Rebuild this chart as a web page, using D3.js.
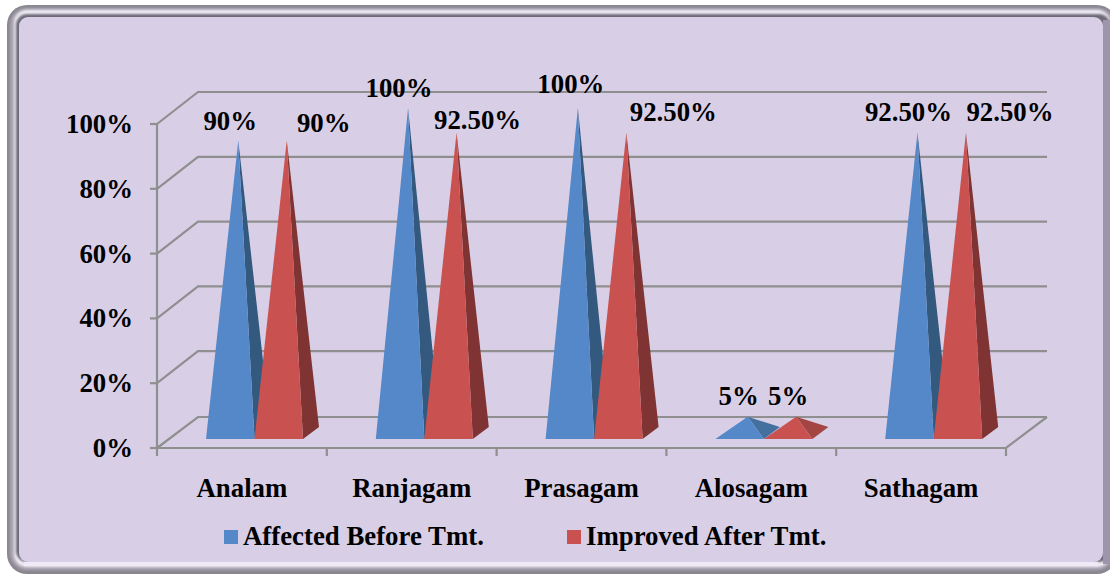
<!DOCTYPE html>
<html><head><meta charset="utf-8">
<script src="https://cdnjs.cloudflare.com/ajax/libs/d3/7.8.5/d3.min.js"></script>
<style>html,body{margin:0;padding:0;background:#fff}svg{display:block}text{font-family:"Liberation Serif",serif;font-weight:bold;fill:#000}</style>
</head><body><svg id="c" width="1110" height="576"></svg>
<script>
const categories = ["Analam","Ranjagam","Prasagam","Alosagam","Sathagam"];
const seriesNames = ["Affected Before Tmt.","Improved After Tmt."];
const affected = [90,100,100,5,92.5];
const improved = [90,92.5,92.5,5,92.5];
const affectedLabels = ["90%","100%","100%","5%","92.50%"];
const improvedLabels = ["90%","92.50%","92.50%","5%","92.50%"];
const yTicks = [0,20,40,60,80,100];
// label nudges away from the apex (layout only)
const affectedNudge = [[-8,-11],[-9,-11],[-7,-15],[-9,-12],[-9,-11]];
const improvedNudge = [[37,-9],[21,-3],[47,-11],[-8,-12],[44,-11]];

const svg = d3.select("#c");
const defs = svg.append("defs");
defs.append("filter").attr("id","b").append("feGaussianBlur").attr("stdDeviation",1.1);

// frame
svg.append("rect").attr("x",7).attr("y",5).attr("width",1110).attr("height",569).attr("rx",20).attr("fill","#8b8790");
svg.append("rect").attr("x",10).attr("y",8).attr("width",1104).attr("height",562).attr("rx",17).attr("fill","#aaa5b3").attr("filter","url(#b)");
svg.append("rect").attr("x",14).attr("y",10).attr("width",1096).attr("height",557).attr("rx",13).attr("fill","#f1edf6").attr("filter","url(#b)");
svg.append("rect").attr("x",16).attr("y",14).attr("width",1094).attr("height",548).attr("rx",11).attr("fill","#6e6a78").attr("filter","url(#b)");
svg.append("rect").attr("x",1103).attr("y",20).attr("width",7).attr("height",544).attr("fill","#9d96ab");
svg.append("rect").attr("x",19).attr("y",17).attr("width",1084).attr("height",545).attr("rx",9).attr("fill","#d8cfe7");
svg.append("rect").attr("x",24).attr("y",562).attr("width",1074).attr("height",4).attr("fill","#efeaf6");

// scales
const frontLeft = 157, frontRight = 1006, frontBottom = 448, frontTop = 124;
const depthX = 41, depthY = 31;
const xScale = d3.scaleBand().domain(categories).range([frontLeft,frontRight]).padding(0);
const gridY = d3.scaleLinear().domain([0,100]).range([frontBottom,frontTop]);
const barH = d3.scaleLinear().domain([0,100]).range([0,325]);
const gray = "#8f8f8f";

// gridlines
const grid = svg.append("g").attr("stroke",gray).attr("stroke-width",2.2).attr("fill","none");
yTicks.forEach(t=>{
  const y = gridY(t);
  grid.append("path").attr("d",`M${frontLeft},${y}L${frontLeft+depthX},${y-depthY-(t===0?0:1)}H${frontRight+depthX}`);
  grid.append("line").attr("x1",frontLeft-7).attr("x2",frontLeft).attr("y1",y).attr("y2",y);
  svg.append("text").attr("x",133).attr("y",y+9).attr("text-anchor","end").attr("font-size",26.8).text(t+"%");
});
grid.append("line").attr("x1",frontLeft).attr("x2",frontLeft).attr("y1",frontTop).attr("y2",frontBottom+8);
grid.append("path").attr("d",`M${frontLeft},${frontBottom}H${frontRight}L${frontRight+depthX},${frontBottom-depthY}`);
categories.forEach((c,i)=>{
  const x = xScale(c)+xScale.bandwidth();
  grid.append("line").attr("x1",x).attr("x2",x).attr("y1",frontBottom).attr("y2",frontBottom+8);
});

// pyramids
const barW = 48.5, inset = 49, baseY = 439, sideX = 16, sideY = 12;
const colors = [["#5588c8","#34597f","#44709f"],["#c95250","#7f3433","#a44543"]];
function pyramid(vals,k,labels,nudge){
  const g = svg.append("g");
  vals.forEach((v,i)=>{
    const x0 = xScale(categories[i])+inset+k*barW, x1 = x0+barW;
    const ax = (x0+x1)/2+sideX/2, ay = baseY-sideY/2-barH(v);
    g.append("path").attr("d",`M${x1},${baseY}L${x1+sideX},${baseY-sideY}L${ax},${ay}Z`).attr("fill",v<20?colors[k][2]:colors[k][1]);
    g.append("path").attr("d",`M${x0},${baseY}L${x1},${baseY}L${ax},${ay}Z`).attr("fill",colors[k][0]);
    svg.append("text").attr("x",ax+nudge[i][0]).attr("y",ay+nudge[i][1]).attr("text-anchor","middle").attr("font-size",26.8).text(labels[i]);
  });
}
pyramid(affected,0,affectedLabels,affectedNudge);
pyramid(improved,1,improvedLabels,improvedNudge);

// category labels
categories.forEach((c,i)=>{
  svg.append("text").attr("x",xScale(c)+xScale.bandwidth()/2).attr("y",497).attr("text-anchor","middle").attr("font-size",26.8).text(c);
});

// legend
const legendX = [224,567];
seriesNames.forEach((s,i)=>{
  svg.append("rect").attr("x",legendX[i]).attr("y",530).attr("width",14).attr("height",14).attr("fill",colors[i][0]);
  svg.append("text").attr("x",legendX[i]+19).attr("y",545).attr("font-size",26.8).text(s);
});
</script></body></html>
